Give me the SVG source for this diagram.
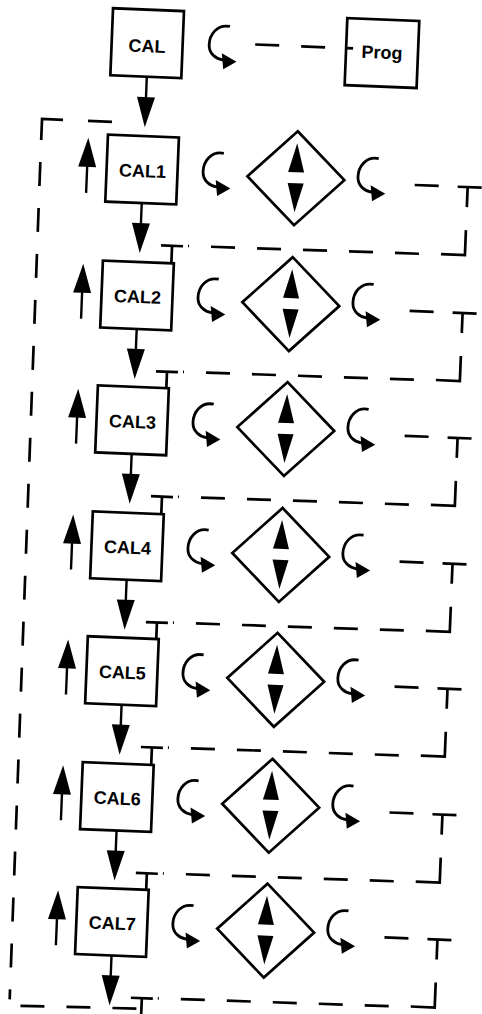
<svg xmlns="http://www.w3.org/2000/svg" xmlns:xlink="http://www.w3.org/1999/xlink" width="482" height="1014" viewBox="0 0 482 1014">
<style>
.box{fill:#fff;stroke:#000;stroke-width:2.7}
.lbl{font-family:"Liberation Sans",Arial,Helvetica,sans-serif;font-weight:bold;font-size:18px;text-anchor:middle;fill:#000}
.ln{fill:none;stroke:#000;stroke-width:2.7}
.cl{fill:none;stroke:#000;stroke-width:2.8}
.sh{fill:none;stroke:#000;stroke-width:2.4}
.dsh{fill:none;stroke:#000;stroke-width:2.7;stroke-dasharray:24 22}
</style>
<defs>
<path id="ahd" d="M0,0 L-9,-30 L9,-30 z" fill="#000"/>
<path id="ahu" d="M0,0 L-9,29 L9,29 z" fill="#000"/>
<g id="curl">
<path d="M5,-19 C-8,-21 -15,-10 -15,0 C-15,9 -8,14 0,15" class="cl"/>
<polygon points="13,16 -2,8 0,24" fill="#000"/>
</g>
<g id="dia">
<polygon points="0,-47 48.5,0 0,47 -48.5,0" class="box"/>
<polygon points="0,-35 8,-6 -8,-6" fill="#000"/>
<polygon points="-8,5 8,5 0,34" fill="#000"/>
</g>
</defs>
<rect width="482" height="1014" fill="#fff"/>
<g transform="rotate(2.3 42 120)">
<g id="node-cal"><rect x="108.5" y="5.5" width="71" height="67" class="box"/><text x="144" y="48" class="lbl">CAL</text></g>
<g id="node-prog"><rect x="343" y="6" width="72" height="67" class="box"/><text x="379" y="45" class="lbl">Prog</text></g>
<g id="node-cal1"><rect x="108.5" y="132" width="71" height="67" class="box"/><text x="144.5" y="173" class="lbl">CAL1</text></g>
<g id="node-cal2"><rect x="108.5" y="258" width="71" height="67" class="box"/><text x="144.5" y="299" class="lbl">CAL2</text></g>
<g id="node-cal3"><rect x="108.5" y="383" width="71" height="67" class="box"/><text x="144.5" y="424" class="lbl">CAL3</text></g>
<g id="node-cal4"><rect x="108.5" y="509" width="71" height="67" class="box"/><text x="144.5" y="550" class="lbl">CAL4</text></g>
<g id="node-cal5"><rect x="108.5" y="634" width="71" height="67" class="box"/><text x="144.5" y="675" class="lbl">CAL5</text></g>
<g id="node-cal6"><rect x="108.5" y="760" width="71" height="67" class="box"/><text x="144.5" y="801" class="lbl">CAL6</text></g>
<g id="node-cal7"><rect x="108.5" y="885" width="71" height="67" class="box"/><text x="144.5" y="926" class="lbl">CAL7</text></g>
<g id="node-d1"><use xlink:href="#dia" x="298" y="168"/></g>
<g id="node-d2"><use xlink:href="#dia" x="298" y="294"/></g>
<g id="node-d3"><use xlink:href="#dia" x="298" y="419"/></g>
<g id="node-d4"><use xlink:href="#dia" x="298" y="545"/></g>
<g id="node-d5"><use xlink:href="#dia" x="298" y="670"/></g>
<g id="node-d6"><use xlink:href="#dia" x="298" y="796"/></g>
<g id="node-d7"><use xlink:href="#dia" x="298" y="921"/></g>
<g id="connectors">
<line x1="145" y1="72.5" x2="145" y2="100" class="sh"/><use xlink:href="#ahd" x="145" y="123"/>
<use xlink:href="#curl" x="221" y="38"/>
<line x1="252" y1="36" x2="350" y2="36" class="dsh"/>
<line x1="88" y1="119" x2="112" y2="119" class="ln"/>
<polyline points="63,119 42,119 42,140" class="ln"/>
<line x1="42" y1="162" x2="45" y2="1000" class="dsh"/>
<line x1="56" y1="1006" x2="174" y2="1004" class="dsh"/>
<!-- row 1 -->
<line x1="89" y1="191" x2="89" y2="160" class="sh"/><use xlink:href="#ahu" x="89" y="136"/>
<line x1="145" y1="199" x2="145" y2="225" class="sh"/><use xlink:href="#ahd" x="145" y="249"/>
<use xlink:href="#curl" x="220" y="165"/>
<use xlink:href="#curl" x="375" y="164"/>
<line x1="417" y1="170" x2="441" y2="170" class="ln"/>
<polyline points="460,170 484,170" class="ln"/>
<line x1="470" y1="170" x2="470" y2="190" class="ln"/>
<polyline points="470,213 470,238 446,238" class="ln"/>
<line x1="424" y1="238.5" x2="193" y2="240" class="dsh"/>
<line x1="166" y1="240.5" x2="188" y2="240.5" class="ln"/>
<line x1="177" y1="240.5" x2="177" y2="258" class="ln"/>
<!-- row 2 -->
<line x1="89" y1="317" x2="89" y2="286" class="sh"/><use xlink:href="#ahu" x="89" y="262"/>
<line x1="145" y1="325" x2="145" y2="351" class="sh"/><use xlink:href="#ahd" x="145" y="375"/>
<use xlink:href="#curl" x="220" y="291"/>
<use xlink:href="#curl" x="375" y="290"/>
<line x1="417" y1="296" x2="441" y2="296" class="ln"/>
<polyline points="460,296 484,296" class="ln"/>
<line x1="470" y1="296" x2="470" y2="316" class="ln"/>
<polyline points="470,339 470,364 446,364" class="ln"/>
<line x1="424" y1="364.5" x2="193" y2="366" class="dsh"/>
<line x1="166" y1="366.5" x2="188" y2="366.5" class="ln"/>
<line x1="177" y1="366.5" x2="177" y2="383" class="ln"/>
<!-- row 3 -->
<line x1="89" y1="442" x2="89" y2="411" class="sh"/><use xlink:href="#ahu" x="89" y="387"/>
<line x1="145" y1="450" x2="145" y2="476" class="sh"/><use xlink:href="#ahd" x="145" y="500"/>
<use xlink:href="#curl" x="220" y="416"/>
<use xlink:href="#curl" x="375" y="415"/>
<line x1="417" y1="421" x2="441" y2="421" class="ln"/>
<polyline points="460,421 484,421" class="ln"/>
<line x1="470" y1="421" x2="470" y2="441" class="ln"/>
<polyline points="470,464 470,489 446,489" class="ln"/>
<line x1="424" y1="489.5" x2="193" y2="491" class="dsh"/>
<line x1="166" y1="491.5" x2="188" y2="491.5" class="ln"/>
<line x1="177" y1="491.5" x2="177" y2="509" class="ln"/>
<!-- row 4 -->
<line x1="89" y1="568" x2="89" y2="537" class="sh"/><use xlink:href="#ahu" x="89" y="513"/>
<line x1="145" y1="576" x2="145" y2="602" class="sh"/><use xlink:href="#ahd" x="145" y="626"/>
<use xlink:href="#curl" x="220" y="542"/>
<use xlink:href="#curl" x="375" y="541"/>
<line x1="417" y1="547" x2="441" y2="547" class="ln"/>
<polyline points="460,547 484,547" class="ln"/>
<line x1="470" y1="547" x2="470" y2="567" class="ln"/>
<polyline points="470,590 470,615 446,615" class="ln"/>
<line x1="424" y1="615.5" x2="193" y2="617" class="dsh"/>
<line x1="166" y1="617.5" x2="188" y2="617.5" class="ln"/>
<line x1="177" y1="617.5" x2="177" y2="634" class="ln"/>
<!-- row 5 -->
<line x1="89" y1="693" x2="89" y2="662" class="sh"/><use xlink:href="#ahu" x="89" y="638"/>
<line x1="145" y1="701" x2="145" y2="727" class="sh"/><use xlink:href="#ahd" x="145" y="751"/>
<use xlink:href="#curl" x="220" y="667"/>
<use xlink:href="#curl" x="375" y="666"/>
<line x1="417" y1="672" x2="441" y2="672" class="ln"/>
<polyline points="460,672 484,672" class="ln"/>
<line x1="470" y1="672" x2="470" y2="692" class="ln"/>
<polyline points="470,715 470,740 446,740" class="ln"/>
<line x1="424" y1="740.5" x2="193" y2="742" class="dsh"/>
<line x1="166" y1="742.5" x2="188" y2="742.5" class="ln"/>
<line x1="177" y1="742.5" x2="177" y2="760" class="ln"/>
<!-- row 6 -->
<line x1="89" y1="819" x2="89" y2="788" class="sh"/><use xlink:href="#ahu" x="89" y="764"/>
<line x1="145" y1="827" x2="145" y2="853" class="sh"/><use xlink:href="#ahd" x="145" y="877"/>
<use xlink:href="#curl" x="220" y="793"/>
<use xlink:href="#curl" x="375" y="792"/>
<line x1="417" y1="798" x2="441" y2="798" class="ln"/>
<polyline points="460,798 484,798" class="ln"/>
<line x1="470" y1="798" x2="470" y2="818" class="ln"/>
<polyline points="470,841 470,866 446,866" class="ln"/>
<line x1="424" y1="866.5" x2="193" y2="868" class="dsh"/>
<line x1="166" y1="868.5" x2="188" y2="868.5" class="ln"/>
<line x1="177" y1="868.5" x2="177" y2="885" class="ln"/>
<!-- row 7 -->
<line x1="89" y1="944" x2="89" y2="913" class="sh"/><use xlink:href="#ahu" x="89" y="889"/>
<line x1="145" y1="952" x2="145" y2="978" class="sh"/><use xlink:href="#ahd" x="145" y="1002"/>
<use xlink:href="#curl" x="220" y="918"/>
<use xlink:href="#curl" x="375" y="917"/>
<line x1="417" y1="923" x2="441" y2="923" class="ln"/>
<polyline points="460,923 484,923" class="ln"/>
<line x1="470" y1="923" x2="470" y2="943" class="ln"/>
<polyline points="470,966 470,991 446,991" class="ln"/>
<line x1="424" y1="991.5" x2="193" y2="993" class="dsh"/>
<line x1="166" y1="993.5" x2="188" y2="993.5" class="ln"/>
<line x1="177" y1="993.5" x2="177" y2="1012" class="ln"/>
</g>
</g>
</svg>
